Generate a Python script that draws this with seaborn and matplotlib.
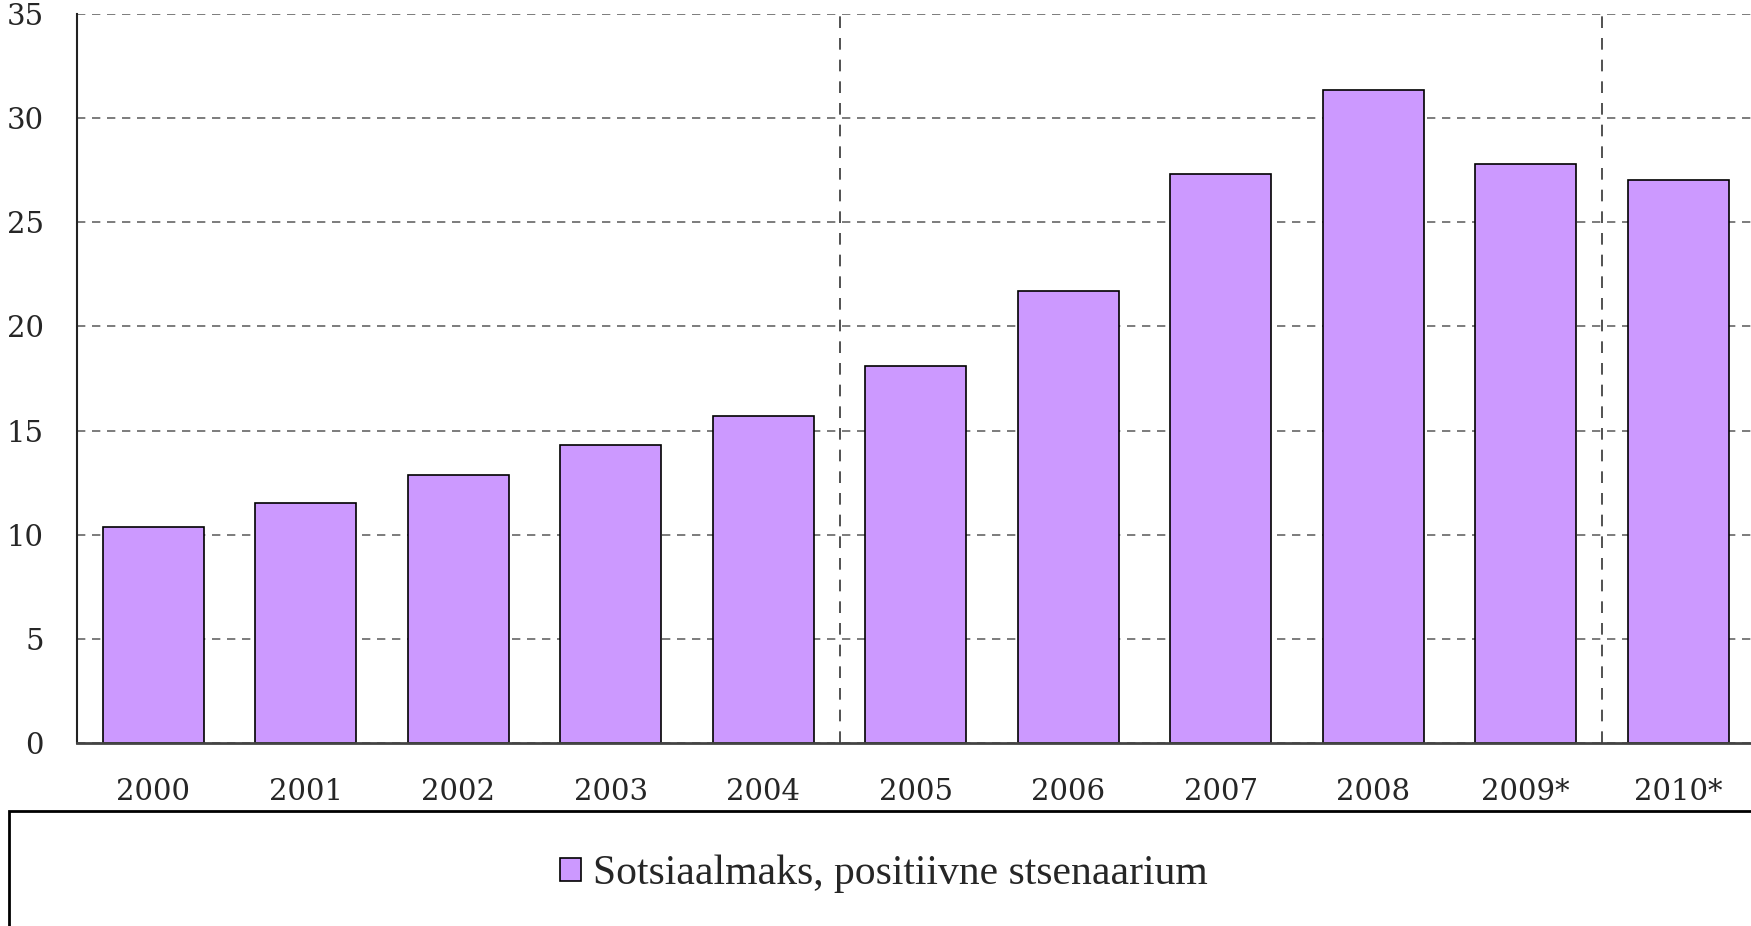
import numpy as np
import pandas as pd
import matplotlib
matplotlib.use("Agg")
import matplotlib.pyplot as plt
import seaborn as sns
from matplotlib.patches import Rectangle

# data
years = ['2000', '2001', '2002', '2003', '2004', '2005',
         '2006', '2007', '2008', '2009*', '2010*']
values = [10.35, 11.5, 12.85, 14.3, 15.7, 18.1, 21.7, 27.3, 31.35, 27.8, 27.02]
series_name = 'Sotsiaalmaks, positiivne stsenaarium'

df = pd.DataFrame({'year': years, 'value': values})

sns.set_style('white')
plt.rcParams['font.family'] = ['DejaVu Serif']

fig = plt.figure(figsize=(17.51, 9.26), dpi=100)
ax = fig.add_axes([77 / 1751, 1 - 743 / 926, 1 - 77 / 1751, (743 - 14) / 926])

sns.barplot(data=df, x='year', y='value', color='#CC99FF', saturation=1,
            width=0.66, edgecolor='black', linewidth=1.2, ax=ax,
            label=series_name)

ax.set_ylim(0, 35)
ax.set_xlim(-0.5, 10.5 - 3.5 / 152.5)
ax.set_yticks(np.arange(0, 36, 5))
ax.set_xlabel('')
ax.set_ylabel('')

# group separators as major ticks, year labels as minor ticks
ax.set_xticks([-0.5, 4.5, 9.5])
ax.set_xticklabels([])
ax.set_xticks(range(len(years)), minor=True)
ax.set_xticklabels(years, minor=True)
ax.tick_params(axis='x', which='major', length=10, width=1.3, color='#222222', direction='out')
ax.tick_params(axis='x', which='minor', length=0, pad=25, labelsize=21)
ax.tick_params(axis='y', length=0, pad=24, labelsize=21)

ax.yaxis.grid(True, linestyle=(0, (5, 4)), color='#666666', linewidth=1.2)
ax.xaxis.grid(True, which='major', linestyle=(0, (7, 6)), color='#333333', linewidth=1.2)
ax.set_axisbelow(True)

for s in ['top', 'right']:
    ax.spines[s].set_visible(False)
ax.spines['left'].set_color('#222222')
ax.spines['left'].set_linewidth(1.5)
ax.spines['bottom'].set_color('#444444')
ax.spines['bottom'].set_linewidth(2)

# legend box at the bottom, partly cut off by the figure edge
fig.patches.append(Rectangle((9 / 1751, -0.1), 1.1, 1 - 811 / 926 + 0.1,
                             transform=fig.transFigure, fill=False,
                             edgecolor='black', linewidth=2))
if ax.get_legend():
    ax.get_legend().remove()
handles, labels = ax.get_legend_handles_labels()
fig.legend(handles, labels, loc='center', bbox_to_anchor=(884 / 1751, 1 - 874 / 926),
           frameon=False, prop={'family': 'Liberation Serif', 'size': 30},
           handlelength=0.5, handleheight=0.5, handletextpad=0.3)

fig.savefig('out.png', dpi=100)
